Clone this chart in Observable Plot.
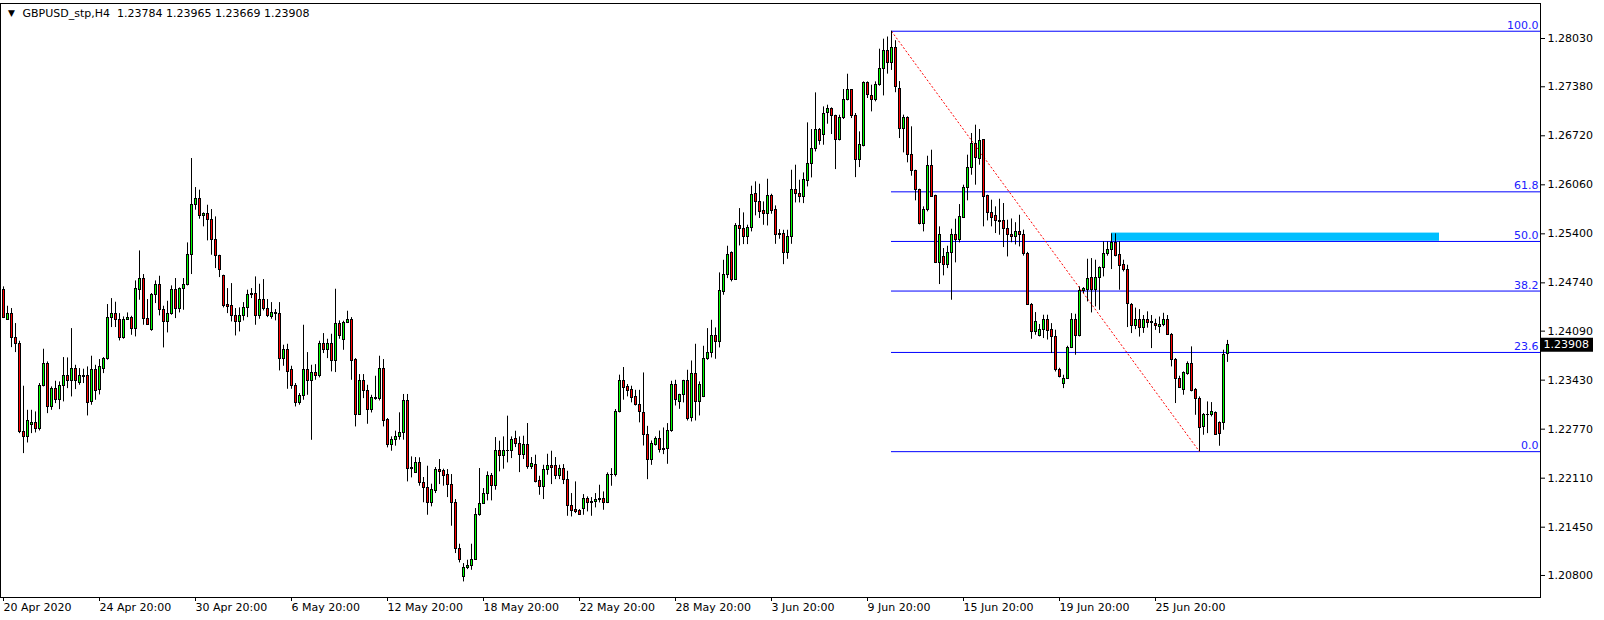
<!DOCTYPE html>
<html><head><meta charset="utf-8">
<script src="https://cdn.jsdelivr.net/npm/d3@7"></script>
<script src="https://cdn.jsdelivr.net/npm/@observablehq/plot@0.6"></script>
<style>
html,body{margin:0;padding:0;background:#fff;}
#chart svg{display:block;}
</style></head><body><div id="chart"></div>
<script>
const symbolTitle = "GBPUSD_stp,H4  1.23784 1.23965 1.23669 1.23908";
const dateTickBars = [0,24,48,72,96,120,144,168,192,216,240,264,288];
const dateTickLabels = ["20 Apr 2020","24 Apr 20:00","30 Apr 20:00","6 May 20:00","12 May 20:00","18 May 20:00","22 May 20:00","28 May 20:00","3 Jun 20:00","9 Jun 20:00","15 Jun 20:00","19 Jun 20:00","25 Jun 20:00"];
const priceTicks = [1.28030,1.27380,1.26720,1.26060,1.25400,1.24740,1.24090,1.23430,1.22770,1.22110,1.21450,1.20800];

const opens = [
1.24641,1.24246,1.24317,1.24003,1.23922,1.22732,1.22665,1.22831,1.22858,1.22777,
1.23348,1.23653,1.23069,1.23307,1.23159,1.23357,1.23482,1.23419,1.23586,1.23397,
1.23473,1.23482,1.23137,1.23572,1.23294,1.23577,1.23716,1.24272,1.24317,1.24246,
1.23999,1.24246,1.24272,1.24124,1.24650,1.24798,1.24259,1.24102,1.24582,1.24717,
1.24380,1.24214,1.24317,1.24650,1.24394,1.24663,1.24708,1.25112,1.25794,1.25875,
1.25642,1.25673,1.25592,1.25314,1.25103,1.24829,1.24439,1.24425,1.24295,1.24214,
1.24295,1.24407,1.24596,1.24596,1.24295,1.24515,1.24394,1.24281,1.24322,1.24326,
1.23720,1.23841,1.23563,1.23357,1.23123,1.23222,1.23563,1.23419,1.23532,1.23482,
1.23913,1.23841,1.23922,1.23689,1.24192,1.23976,1.24205,1.24237,1.23698,1.22966,
1.23415,1.23285,1.23024,1.23195,1.23181,1.23577,1.22891,1.22563,1.22622,1.22666,
1.22720,1.23147,1.22231,1.22186,1.22321,1.22051,1.21984,1.21779,1.21939,1.22226,
1.22204,1.22150,1.22024,1.21782,1.21158,1.20781,1.20902,1.20929,1.21014,1.21616,
1.21769,1.21894,1.22146,1.22007,1.22482,1.22402,1.22473,1.22477,1.22635,1.22576,
1.22428,1.22554,1.22262,1.22284,1.22069,1.21992,1.22226,1.22271,1.22271,1.22136,
1.22239,1.22091,1.21737,1.21678,1.21665,1.21701,1.21835,1.21777,1.21790,1.21813,
1.21835,1.21777,1.22150,1.22158,1.22998,1.23425,1.23335,1.23295,1.23199,1.23100,
1.22992,1.22696,1.22359,1.22561,1.22642,1.22494,1.22508,1.22742,1.23361,1.23136,
1.23226,1.23415,1.22921,1.23509,1.23136,1.23204,1.23711,1.23801,1.24021,1.23944,
1.24618,1.24851,1.25143,1.24784,1.25502,1.25471,1.25359,1.25480,1.25933,1.25824,
1.25704,1.25672,1.25906,1.25717,1.25390,1.25394,1.25147,1.25358,1.25996,1.25942,
1.25897,1.26113,1.26346,1.26548,1.26795,1.26728,1.27029,1.27087,1.26988,1.26669,
1.26961,1.27208,1.27334,1.26993,1.26400,1.26584,1.27433,1.27257,1.27208,1.27410,
1.27626,1.27859,1.27700,1.27900,1.27350,1.26805,1.26966,1.26468,1.26243,1.25996,
1.25538,1.25718,1.26311,1.25907,1.25009,1.25085,1.24986,1.25148,1.25390,1.25323,
1.25619,1.26019,1.26293,1.26607,1.26414,1.26661,1.25907,1.25687,1.25637,1.25570,
1.25570,1.25462,1.25390,1.25360,1.25420,1.25380,1.25134,1.24447,1.24079,1.24025,
1.24111,1.24245,1.24111,1.24012,1.23563,1.23383,1.23451,1.23868,1.24245,1.24021,
1.24632,1.24649,1.24807,1.24641,1.24807,1.24946,1.25134,1.25179,1.25283,1.25112,
1.24977,1.24919,1.24447,1.24160,1.24237,1.24130,1.24240,1.24200,1.24183,1.24150,
1.24170,1.24237,1.24035,1.23707,1.23451,1.23294,1.23519,1.23644,1.23294,1.23182,
1.22800,1.22957,1.22966,1.22989,1.22854,1.22859,1.23784];

const highs = [
1.24686,1.24425,1.24394,1.24192,1.23954,1.23348,1.23024,1.23024,1.23002,1.23384,
1.23846,1.23675,1.23339,1.23415,1.23406,1.23734,1.23729,1.24124,1.23630,1.23586,
1.23577,1.23608,1.23752,1.23630,1.23707,1.23734,1.24448,1.24528,1.24479,1.24326,
1.24281,1.24335,1.24290,1.24766,1.25170,1.24852,1.24515,1.24596,1.24766,1.24829,
1.24425,1.24492,1.24699,1.24798,1.24672,1.24798,1.25278,1.26414,1.26023,1.25988,
1.25682,1.25785,1.25727,1.25628,1.25112,1.24843,1.24663,1.24730,1.24394,1.24403,
1.24474,1.24641,1.24663,1.24820,1.24721,1.24784,1.24515,1.24474,1.24380,1.24474,
1.23900,1.23913,1.23617,1.23384,1.23249,1.24169,1.23801,1.23630,1.23639,1.23954,
1.24057,1.23981,1.24048,1.24654,1.24228,1.24223,1.24358,1.24272,1.23720,1.23505,
1.23505,1.23361,1.23226,1.23482,1.23752,1.23707,1.22913,1.22666,1.22743,1.22990,
1.23237,1.23237,1.22397,1.22388,1.22384,1.22119,1.22271,1.22029,1.22253,1.22361,
1.22231,1.22226,1.22159,1.21822,1.21221,1.20960,1.21005,1.21221,1.21701,1.22240,
1.21970,1.22195,1.22173,1.22657,1.22608,1.22666,1.22945,1.22666,1.22742,1.22666,
1.22675,1.22846,1.22388,1.22419,1.22136,1.22284,1.22432,1.22473,1.22388,1.22284,
1.22293,1.22203,1.21903,1.22060,1.21687,1.21889,1.21858,1.21849,1.21903,1.22015,
1.21925,1.22181,1.22239,1.23034,1.23497,1.23600,1.23371,1.23348,1.23293,1.23293,
1.23527,1.22808,1.22611,1.22665,1.22745,1.22786,1.22845,1.23415,1.23428,1.23240,
1.23428,1.23563,1.23688,1.23913,1.23406,1.23886,1.24124,1.24236,1.24133,1.24874,
1.25044,1.25233,1.25157,1.25538,1.25740,1.25682,1.25516,1.26041,1.26100,1.26068,
1.25830,1.26135,1.25933,1.25776,1.25457,1.25448,1.25448,1.26256,1.26324,1.26122,
1.26220,1.26894,1.26804,1.27298,1.26818,1.27109,1.27132,1.27096,1.26997,1.26997,
1.27343,1.27549,1.27343,1.27020,1.26773,1.27446,1.27446,1.27401,1.27446,1.27886,
1.28021,1.28050,1.28128,1.28000,1.27450,1.26998,1.26975,1.26841,1.26257,1.26001,
1.25763,1.26445,1.26526,1.25920,1.25494,1.25202,1.25233,1.25462,1.25597,1.25794,
1.26055,1.26459,1.26751,1.26863,1.26805,1.26670,1.25920,1.25853,1.25763,1.25866,
1.25808,1.25583,1.25600,1.25550,1.25650,1.25450,1.25150,1.24461,1.24340,1.24180,
1.24304,1.24304,1.24191,1.24102,1.23590,1.23496,1.23886,1.24326,1.24317,1.24686,
1.24676,1.25058,1.25067,1.25045,1.24955,1.25292,1.25292,1.25400,1.25400,1.25292,
1.25045,1.24977,1.24461,1.24400,1.24380,1.24300,1.24350,1.24300,1.24250,1.24280,
1.24330,1.24300,1.24057,1.23721,1.23483,1.23541,1.23676,1.23878,1.23317,1.23204,
1.22980,1.23137,1.23128,1.23002,1.22868,1.23833,1.23965];

const lows = [
1.24259,1.24237,1.23868,1.23801,1.22710,1.22441,1.22584,1.22710,1.22719,1.22746,
1.23339,1.22979,1.23024,1.23114,1.23033,1.23137,1.23316,1.23204,1.23303,1.23361,
1.23384,1.22948,1.23092,1.23159,1.23231,1.23518,1.23698,1.24138,1.24138,1.23958,
1.23981,1.24237,1.24034,1.24012,1.24506,1.24169,1.24169,1.24088,1.24461,1.24295,
1.23864,1.24066,1.24304,1.24259,1.24335,1.24371,1.24699,1.24852,1.25718,1.25597,
1.25494,1.25305,1.25112,1.24932,1.24811,1.24403,1.24326,1.24214,1.24025,1.24079,
1.24227,1.24272,1.24528,1.24169,1.24250,1.24362,1.24272,1.24250,1.24228,1.23554,
1.23617,1.23307,1.23307,1.23069,1.23092,1.23159,1.23226,1.22620,1.23428,1.23460,
1.23788,1.23720,1.23541,1.23532,1.23981,1.23832,1.24192,1.23428,1.22800,1.22966,
1.23181,1.22836,1.22988,1.23159,1.23150,1.22800,1.22518,1.22473,1.22541,1.22622,
1.22622,1.22060,1.22114,1.22173,1.22002,1.21779,1.21611,1.21724,1.21903,1.22024,
1.22002,1.21849,1.21463,1.21095,1.20969,1.20713,1.20879,1.20870,1.21005,1.21598,
1.21760,1.21804,1.21804,1.21948,1.22195,1.22231,1.22316,1.22374,1.22522,1.22185,
1.22361,1.22230,1.22226,1.22046,1.21880,1.21822,1.22150,1.22024,1.22091,1.22091,
1.22024,1.21597,1.21588,1.21633,1.21611,1.21611,1.21656,1.21597,1.21710,1.21777,
1.21678,1.21768,1.22001,1.22127,1.22989,1.23160,1.23205,1.23124,1.23082,1.22855,
1.22543,1.22090,1.22283,1.22543,1.22449,1.22427,1.22297,1.22728,1.23082,1.23037,
1.23123,1.22880,1.22867,1.22880,1.22948,1.23195,1.23697,1.23729,1.23711,1.23864,
1.24573,1.24797,1.24753,1.24775,1.25237,1.25255,1.25255,1.25426,1.25642,1.25606,
1.25515,1.25506,1.25664,1.25259,1.25327,1.24985,1.25057,1.25259,1.25816,1.25816,
1.25807,1.26032,1.26153,1.26503,1.26593,1.26593,1.26876,1.26737,1.26265,1.26651,
1.26939,1.27190,1.26952,1.26157,1.26292,1.26571,1.27222,1.27042,1.27177,1.27388,
1.27257,1.27550,1.27600,1.27300,1.26683,1.26490,1.26356,1.26176,1.25844,1.25520,
1.25426,1.25696,1.25889,1.25000,1.24717,1.24834,1.24932,1.24506,1.25009,1.25278,
1.25606,1.25844,1.26189,1.26055,1.26324,1.25494,1.25574,1.25494,1.25404,1.25381,
1.25215,1.25089,1.25280,1.25250,1.25224,1.25100,1.24440,1.23980,1.24035,1.24012,
1.23990,1.23970,1.23788,1.23540,1.23460,1.23316,1.23440,1.23855,1.23765,1.24012,
1.24596,1.24483,1.24335,1.24416,1.24370,1.24820,1.25099,1.24919,1.25090,1.24641,
1.24887,1.24138,1.24057,1.24110,1.24010,1.24060,1.24130,1.23855,1.24100,1.24057,
1.24150,1.24035,1.23608,1.23115,1.23317,1.23227,1.23496,1.23272,1.22957,1.22467,
1.22688,1.22710,1.22935,1.22688,1.22540,1.22755,1.23669];

const closes = [
1.24272,1.24317,1.24003,1.23922,1.22732,1.22665,1.22881,1.22858,1.22777,1.23357,
1.23653,1.23069,1.23307,1.23159,1.23357,1.23491,1.23419,1.23586,1.23419,1.23491,
1.23491,1.23128,1.23572,1.23285,1.23608,1.23716,1.24272,1.24317,1.24246,1.23999,
1.24246,1.24272,1.24124,1.24663,1.24798,1.24259,1.24178,1.24582,1.24717,1.24380,
1.24214,1.24326,1.24650,1.24394,1.24663,1.24708,1.25112,1.25794,1.25875,1.25642,
1.25673,1.25592,1.25314,1.25103,1.24919,1.24430,1.24416,1.24295,1.24214,1.24295,
1.24407,1.24582,1.24573,1.24295,1.24515,1.24394,1.24295,1.24340,1.24340,1.23720,
1.23841,1.23541,1.23352,1.23123,1.23222,1.23572,1.23419,1.23532,1.23487,1.23913,
1.23841,1.23922,1.23689,1.24192,1.24025,1.24205,1.24237,1.23689,1.22966,1.23415,
1.23285,1.23024,1.23195,1.23181,1.23586,1.22881,1.22563,1.22630,1.22666,1.22725,
1.23147,1.22235,1.22253,1.22321,1.22051,1.21979,1.21779,1.21948,1.22226,1.22195,
1.22141,1.22024,1.21782,1.21158,1.21005,1.20906,1.20933,1.21014,1.21620,1.21769,
1.21903,1.22146,1.22007,1.22482,1.22402,1.22473,1.22482,1.22630,1.22576,1.22428,
1.22554,1.22262,1.22307,1.22060,1.21992,1.22226,1.22271,1.22253,1.22136,1.22239,
1.22091,1.21737,1.21669,1.21656,1.21620,1.21835,1.21777,1.21790,1.21822,1.21835,
1.21777,1.22150,1.22158,1.22998,1.23416,1.23326,1.23286,1.23191,1.23100,1.23002,
1.22696,1.22359,1.22575,1.22642,1.22494,1.22508,1.22742,1.23361,1.23159,1.23226,
1.23415,1.22903,1.23509,1.23136,1.23361,1.23720,1.23801,1.24021,1.23944,1.24627,
1.24851,1.25121,1.24784,1.25502,1.25466,1.25359,1.25484,1.25920,1.25824,1.25695,
1.25672,1.25906,1.25708,1.25390,1.25394,1.25147,1.25358,1.25996,1.25942,1.25897,
1.26122,1.26346,1.26548,1.26795,1.26651,1.27020,1.27087,1.26988,1.26669,1.26966,
1.27208,1.27334,1.26984,1.26400,1.26593,1.27433,1.27266,1.27208,1.27410,1.27626,
1.27859,1.27700,1.27900,1.27380,1.26805,1.26966,1.26468,1.26248,1.25996,1.25538,
1.25718,1.26311,1.25898,1.25009,1.25390,1.24986,1.25148,1.25390,1.25323,1.25628,
1.26019,1.26293,1.26607,1.26427,1.26652,1.25898,1.25687,1.25615,1.25570,1.25561,
1.25462,1.25390,1.25360,1.25420,1.25380,1.25134,1.24447,1.24079,1.24214,1.24111,
1.24245,1.24093,1.24012,1.23563,1.23473,1.23451,1.23868,1.24245,1.24021,1.24632,
1.24663,1.24798,1.24641,1.24807,1.24946,1.25134,1.25179,1.25283,1.25099,1.24968,
1.24919,1.24461,1.24160,1.24237,1.24130,1.24240,1.24200,1.24210,1.24156,1.24170,
1.24237,1.24035,1.23707,1.23451,1.23330,1.23528,1.23644,1.23285,1.23182,1.22791,
1.22957,1.22966,1.23002,1.22697,1.22710,1.23766,1.23908];

const fibRatios = [0, 0.236, 0.382, 0.5, 0.618, 1];
const fibLabels = ["0.0", "23.6", "38.2", "50.0", "61.8", "100.0"];
const fibHighBar = 222;
const fibLowBar = 299;
const zoneBars = [277, 359];
const zonePrices = [1.25300, 1.25410];
const bidPrice = closes[closes.length - 1];

// ---- layout ----
const W = 1604, H = 620;
const mL = 0, mR = 64, mT = 3, mB = 23;
const pxPerBar = 4;
const xDomain = [-0.75, (W - mL - mR) / pxPerBar - 0.75];
const yDomain = [1.205034, 1.285013];
const xRightEdge = xDomain[1] + mR / pxPerBar;

const candles = opens.map((o, i) => ({i, o, h: highs[i], l: lows[i], c: closes[i]}));
const fibHigh = highs[fibHighBar], fibLow = lows[fibLowBar];
const fibs = fibRatios.map((r, k) => ({p: fibLow + r * (fibHigh - fibLow), label: fibLabels[k]}));
const zone = [{x1: zoneBars[0], x2: zoneBars[1], y1: zonePrices[0], y2: zonePrices[1]}];
const trend = [{x1: fibHighBar, y1: fibHigh, x2: fibLowBar, y2: fibLow}];

const chart = Plot.plot({
  width: W, height: H,
  marginLeft: mL, marginRight: mR, marginTop: mT, marginBottom: mB,
  style: {fontFamily: "'DejaVu Sans', sans-serif", fontSize: "11px", background: "#ffffff", color: "#000000"},
  x: {type: "linear", domain: xDomain, label: null},
  y: {type: "linear", domain: yDomain, label: null},
  color: {type: "identity"},
  marks: [
    Plot.rect(zone, {x1: "x1", x2: "x2", y1: "y1", y2: "y2", fill: "#00bfff"}),
    Plot.ruleY(fibs, {y: "p", x1: fibHighBar, x2: xDomain[1], stroke: "#0000ff", strokeWidth: 1}),
    Plot.text(fibs, {x: xDomain[1], y: "p", text: "label", textAnchor: "end", dx: -2, dy: -6, fill: "#2020ff"}),
    Plot.link(trend, {x1: "x1", y1: "y1", x2: "x2", y2: "y2", stroke: "#ff0000", strokeWidth: 1, strokeDasharray: "2,2"}),
    Plot.ruleX(candles, {x: "i", y1: "l", y2: "h", stroke: "#000000", strokeWidth: 1}),
    Plot.rect(candles, {
      x1: d => d.i - 0.25, x2: d => d.i + 0.25, y1: "o", y2: "c",
      fill: d => d.c >= d.o ? "#00ff00" : "#ff0000",
      stroke: "#000000", strokeWidth: 1, shapeRendering: "crispEdges"
    }),
    Plot.frame({stroke: "#000000"}),
    Plot.axisY({anchor: "right", ticks: priceTicks, tickFormat: d => d.toFixed(5), tickSize: 4, tickPadding: 3, label: null}),
    Plot.axisX({anchor: "bottom", ticks: dateTickBars, tickFormat: d => dateTickLabels[dateTickBars.indexOf(d)], tickSize: 4, tickPadding: 2, textAnchor: "start", dx: 0, label: null}),
    Plot.ruleY([bidPrice], {x1: xDomain[1], x2: xRightEdge - 2.75, stroke: "#000000", strokeWidth: 14}),
    Plot.text([bidPrice], {x: xDomain[1], y: d => d, text: d => d.toFixed(5), textAnchor: "start", dx: 3, fill: "#ffffff"}),
    Plot.text([symbolTitle], {frameAnchor: "top-left", dx: 22, dy: 10, textAnchor: "start", lineAnchor: "middle", fill: "#000000"}),
    Plot.text(["\u25BC"], {frameAnchor: "top-left", dx: 11, dy: 10, textAnchor: "middle", lineAnchor: "middle", fontSize: 9, fill: "#000000"})
  ]
});
document.getElementById("chart").appendChild(chart);
</script>
</body></html>
